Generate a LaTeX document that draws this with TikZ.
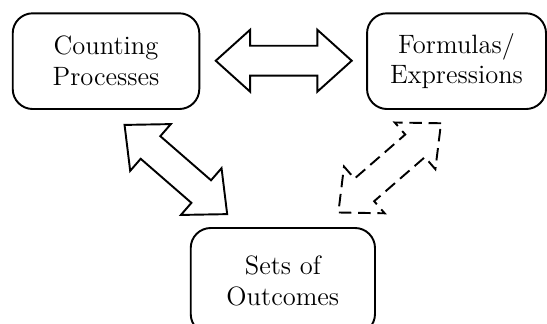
\documentclass[tikz,border=0pt]{standalone}
\usepackage{tikz}
\usetikzlibrary{shapes.arrows}

\begin{document}
\begin{tikzpicture}[
    concept/.style={rectangle, rounded corners=0.366cm, draw=black, line width=1pt, minimum height=1.75cm, align=center, font=\fontsize{13.8}{16}\selectfont},
    link/.style={double arrow, draw=black, line width=1pt, inner xsep=0pt, inner ysep=0.256cm, minimum height=2.486cm, double arrow head extend=0.2925cm, double arrow tip angle=84},
    maybe/.style={link, dash pattern=on 6.5pt off 3.5pt}
]
\useasboundingbox (0,0) rectangle (10,5.905);

% Concept boxes
\node[concept, minimum width=3.411cm] (counting) at (1.938,4.787) {Counting\\Processes};
\node[concept, minimum width=3.272cm] (formulas) at (8.346,4.787) {Formulas/\\Expressions};
\node[concept, minimum width=3.369cm, minimum height=1.938cm] (outcomes) at (5.171,0.768) {Sets of\\Outcomes};

% Block arrows between the boxes
\node[link] (counting-formulas) at (5.187,4.795) {};
\node[link, rotate=-41] (counting-outcomes) at (3.215,2.806) {};
\node[maybe, rotate=41] (outcomes-formulas) at (7.124,2.836) {};
\end{tikzpicture}
\end{document}
